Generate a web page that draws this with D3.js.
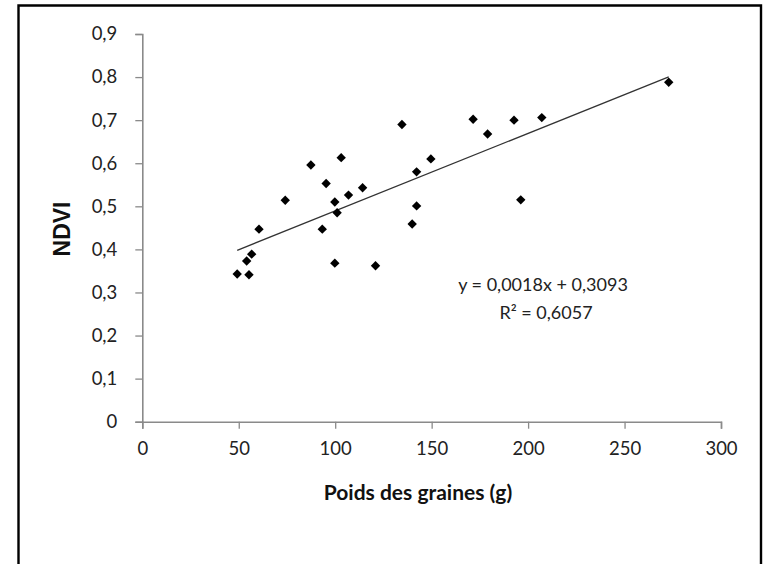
<!DOCTYPE html>
<html>
<head>
<meta charset="utf-8">
<script src="https://cdn.jsdelivr.net/npm/d3@7"></script>
<style>
html,body{margin:0;padding:0;background:#fff;overflow:hidden;}
svg{display:block;}
text{font-family:Lato,"Open Sans",sans-serif;}
</style>
</head>
<body>
<svg id="chart" width="765" height="564"></svg>
<script>
const poids = [49.2,55.3,54.1,56.7,60.5,74.1,87.4,95.3,103.1,99.8,101.0,93.3,106.9,114.2,99.8,120.9,134.6,142.2,149.6,142.2,139.9,171.5,179.0,192.7,207.1,196.2,272.9];
const ndvi  = [0.343,0.341,0.373,0.389,0.447,0.514,0.596,0.553,0.613,0.510,0.485,0.447,0.526,0.543,0.368,0.362,0.690,0.580,0.610,0.501,0.459,0.702,0.668,0.700,0.706,0.515,0.788];
const xTicks = [0,50,100,150,200,250,300];
const yTicks = [0,0.1,0.2,0.3,0.4,0.5,0.6,0.7,0.8,0.9];
const slope = 0.0018, intercept = 0.3093;
const eqLabel = "y = 0,0018x + 0,3093";
const r2Label = "R² = 0,6057";
const xTitle = "Poids des graines (g)";
const yTitle = "NDVI";

const svg = d3.select("#chart");
const x = d3.scaleLinear().domain([0,300]).range([142.3,721]);
const y = d3.scaleLinear().domain([0,0.9]).range([421.7,34]);
const fmt = v => String(+v.toFixed(1)).replace(".", ",");

// outer border (bottom edge lies outside the picture)
svg.append("path").attr("d","M18.5,600 L18.5,5.5 L761,5.5 L761,600")
  .attr("fill","none").attr("stroke","#000").attr("stroke-width",2.4);

const axColor = "#8a8a8a";
const gx = svg.append("g").attr("transform",`translate(0,${y(0)})`)
  .call(d3.axisBottom(x).tickValues(xTicks).tickSize(7).tickPadding(13).tickFormat(d=>d));
const gy = svg.append("g").attr("transform",`translate(${x(0)},0)`)
  .call(d3.axisLeft(y).tickValues(yTicks).tickSize(7).tickPadding(18).tickFormat(fmt));
[gx,gy].forEach(g=>{
  g.select(".domain").attr("stroke",axColor).attr("stroke-width",1.6);
  g.selectAll(".tick line").attr("stroke",axColor).attr("stroke-width",1.3);
  g.selectAll(".tick text").attr("fill","#222").style("font-size","18.5px");
});

// trendline
const xmin = d3.min(poids), xmax = d3.max(poids);
svg.append("line")
  .attr("x1",x(xmin)).attr("y1",y(slope*xmin+intercept))
  .attr("x2",x(xmax)).attr("y2",y(slope*xmax+intercept))
  .attr("stroke","#333").attr("stroke-width",1.3);

// points
const sym = d3.symbol().type(d3.symbolSquare).size(44);
svg.append("g").selectAll("path").data(poids.map((p,i)=>[p,ndvi[i]])).join("path")
  .attr("d",sym)
  .attr("transform",d=>`translate(${x(d[0])},${y(d[1])}) rotate(45)`)
  .attr("fill","#000");

// equation
svg.append("text").attr("x",543).attr("y",291).attr("text-anchor","middle")
  .style("font-size","18px").attr("fill","#222").text(eqLabel);
svg.append("text").attr("x",546).attr("y",319).attr("text-anchor","middle")
  .style("font-size","18px").attr("fill","#222").text(r2Label);

// axis titles
svg.append("text").attr("x",418).attr("y",500).attr("text-anchor","middle")
  .style("font-size","21px").style("font-weight","bold").attr("fill","#111").text(xTitle);
svg.append("text").attr("transform","translate(70,229) rotate(-90)").attr("text-anchor","middle")
  .style("font-family","'Liberation Sans',Arial,sans-serif")
  .style("font-size","23px").style("font-weight","bold").attr("fill","#111").text(yTitle);
</script>
</body>
</html>
